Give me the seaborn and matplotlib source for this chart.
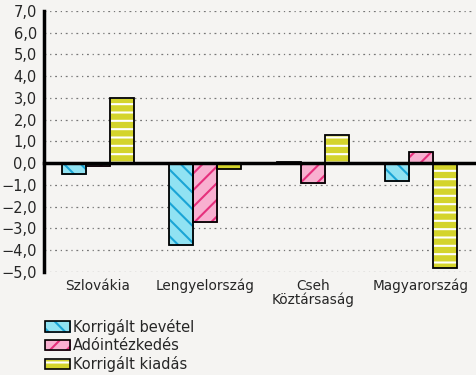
import matplotlib
matplotlib.use("Agg")
import matplotlib.pyplot as plt
import seaborn as sns
import pandas as pd
from matplotlib.patches import Rectangle, Patch
from matplotlib.legend_handler import HandlerTuple
from matplotlib.ticker import FuncFormatter

categories = ["Szlovákia", "Lengyelország", "Cseh\nKöztársaság", "Magyarország"]
series_names = ["Korrigált bevétel", "Adóintézkedés", "Korrigált kiadás"]
korrigalt_bevetel = [-0.5, -3.75, 0.05, -0.8]
adointezkedes = [-0.15, -2.7, -0.9, 0.5]
korrigalt_kiadas = [3.0, -0.25, 1.3, -4.8]
yticks = [7, 6, 5, 4, 3, 2, 1, 0, -1, -2, -3, -4, -5]

bg = "#f5f4f2"
face_colors = ["#90e2f2", "#f8b0d0", "#d4d42c"]
hatch_colors = ["#1aa5d6", "#e6307c", "#ffffff"]
hatches = ["\\\\", "//", "--"]

rows = []
for name, vals in zip(series_names, [korrigalt_bevetel, adointezkedes, korrigalt_kiadas]):
    for c, v in zip(categories, vals):
        rows.append({"cat": c, "series": name, "value": v})
df = pd.DataFrame(rows)

sns.set_style("white")
plt.rcParams["font.family"] = ["DejaVu Sans"]
plt.rcParams["hatch.linewidth"] = 1.5

fig = plt.figure(figsize=(4.76, 3.75), dpi=100, facecolor=bg)
ax = fig.add_axes([0.092, 0.275, 0.905, 0.696])
ax.set_facecolor(bg)

sns.barplot(data=df, x="cat", y="value", hue="series", order=categories,
            hue_order=series_names, palette=face_colors, width=0.67, gap=0,
            saturation=1, ax=ax, legend=False, errorbar=None)

n = len(categories)
for i, p in enumerate(ax.patches[:3 * n]):
    s = i // n
    p.set_hatch(hatches[s])
    p.set_edgecolor(hatch_colors[s])
    p.set_linewidth(0.5)
    x, y = p.get_xy()
    ax.add_patch(Rectangle((x, y), p.get_width(), p.get_height(), fill=False,
                           edgecolor="black", linewidth=1.3, zorder=3))

ax.set_ylim(-5, 7)
ax.set_xlim(-0.5, 3.5)
ax.set_yticks(yticks)
ax.yaxis.set_major_formatter(FuncFormatter(lambda v, _: f"{v:.1f}".replace(".", ",").replace("-", "\u2212")))
ax.grid(axis="y", color="#777777", linestyle=(0, (1.5, 3, 1, 3)), linewidth=0.9)
ax.set_axisbelow(True)

for sp in ["top", "right"]:
    ax.spines[sp].set_visible(False)
ax.spines["left"].set_linewidth(2.5)
ax.spines["left"].set_color("black")
ax.spines["bottom"].set_position(("data", 0))
ax.spines["bottom"].set_linewidth(2.5)
ax.spines["bottom"].set_color("black")
ax.spines["bottom"].set_zorder(4)

ax.set_xticks([0.5, 1.5, 2.5, 3.5])
ax.set_xticklabels([])
ax.tick_params(axis="x", direction="out", length=4, width=2.5, color="black")
ax.tick_params(axis="y", direction="out", length=4, width=2.5, color="black",
               labelsize=10.5, pad=1)
ax.set_xlabel("")
ax.set_ylabel("")

sec = ax.secondary_xaxis("bottom")
sec.set_xticks(range(len(categories)))
sec.set_xticklabels(categories, fontsize=9.8, linespacing=1.0)
sec.tick_params(length=0, pad=5)
sec.spines["bottom"].set_visible(False)

handles = []
for i in range(3):
    h_fill = Patch(facecolor=face_colors[i], edgecolor=hatch_colors[i], hatch=hatches[i], linewidth=0.5)
    h_edge = Patch(facecolor="none", edgecolor="black", linewidth=1.2)
    handles.append((h_fill, h_edge))
leg = fig.legend(handles, series_names, loc="upper left", bbox_to_anchor=(0.094, 0.15),
                 frameon=False, fontsize=10.5, handlelength=1.75, handleheight=0.75,
                 handletextpad=0.2, labelspacing=0.22, borderaxespad=0, borderpad=0,
                 handler_map={tuple: HandlerTuple(ndivide=1, pad=0)})

fig.savefig("out.png", dpi=100, facecolor=bg)
